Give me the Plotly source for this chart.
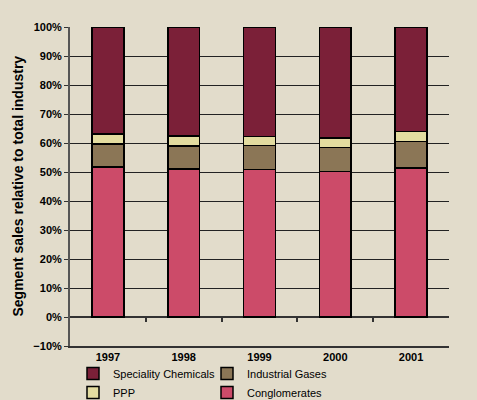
import plotly.graph_objects as go

years = ["1997", "1998", "1999", "2000", "2001"]
conglomerates = [51.8, 51.1, 50.9, 50.2, 51.4]
industrial_gases = [7.9, 7.9, 8.2, 8.2, 9.2]
ppp = [3.4, 3.4, 3.2, 3.4, 3.4]
speciality = [36.9, 37.6, 37.7, 38.2, 36.0]
y_title = "Segment sales relative to total industry"

bg = "#E2DCCB"
font = "Liberation Sans, Arial, sans-serif"

# page body has an 8px default margin; size the figure to fill the rest
OFF = 8
W, H = 477 - OFF, 400 - OFF
ml, mr, mt, mb = 70 - OFF, 28, 27 - OFF, 54

fig = go.Figure()
series = [
    ("Conglomerates", conglomerates, "#CC4B69", "legend2"),
    ("Industrial Gases", industrial_gases, "#8B7656", "legend2"),
    ("PPP", ppp, "#E3DCA0", "legend"),
    ("Speciality Chemicals", speciality, "#7B2038", "legend"),
]
for name, vals, col, leg in series:
    fig.add_trace(go.Bar(
        x=years, y=vals, name=name, legend=leg,
        marker=dict(color=col, line=dict(color="#000000", width=1.5)),
        width=0.42,
    ))

# invisible trace to carry the category-boundary ticks on the 0% line
fig.add_trace(go.Scatter(x=[0], y=[0], xaxis="x2", yaxis="y", mode="markers",
                         marker=dict(opacity=0), showlegend=False, hoverinfo="skip"))

ymin, ymax = -10, 100
zero_pos = (0 - ymin) / (ymax - ymin)  # fraction within plot domain

leg_common = dict(
    orientation="v", traceorder="reversed",
    xref="container", yref="container",
    xanchor="left", y=1 - 351 / H, yanchor="top",
    font=dict(family=font, size=11, color="#000000"),
    bgcolor="rgba(0,0,0,0)", tracegroupgap=0, itemwidth=30,
)

fig.update_layout(
    width=W, height=H,
    margin=dict(l=ml, r=mr, t=mt, b=mb, autoexpand=False),
    paper_bgcolor=bg, plot_bgcolor=bg,
    barmode="stack",
    font=dict(family=font, size=11, color="#000000"),
    xaxis=dict(
        showline=True, linecolor="#333333", linewidth=2,
        ticks="", showgrid=False,
        tickfont=dict(family=font, size=11, color="#000000", weight="bold"),
        range=[-0.5, 4.5],
    ),
    xaxis2=dict(
        overlaying="x", anchor="free", position=zero_pos,
        range=[-0.5, 4.5], tickvals=[0.5, 1.5, 2.5, 3.5],
        ticks="outside", ticklen=4, tickcolor="#333333", tickwidth=1.5,
        showticklabels=False, showgrid=False, showline=False, zeroline=False,
    ),
    yaxis=dict(
        range=[ymin, ymax], dtick=10, ticksuffix="%",
        showgrid=True, gridcolor="#222222", gridwidth=1.3,
        zeroline=True, zerolinecolor="#333333", zerolinewidth=2,
        showline=True, linecolor="#555555", linewidth=2,
        ticks="outside", ticklen=4, tickcolor="#333333",
        tickfont=dict(family=font, size=11, color="#000000", weight="bold"),
    ),
    annotations=[dict(
        text=y_title, textangle=-90, showarrow=False,
        xref="paper", yref="paper", x=0, y=0.5,
        xanchor="center", yanchor="middle", xshift=-53,
        font=dict(family=font, size=14, color="#000000", weight="bold"),
    )],
    legend=dict(x=65 / W, **leg_common),
    legend2=dict(x=199 / W, **leg_common),
)

fig.write_html("out.html", config={"displayModeBar": False},
               post_script="document.body.style.background='%s';" % bg)
